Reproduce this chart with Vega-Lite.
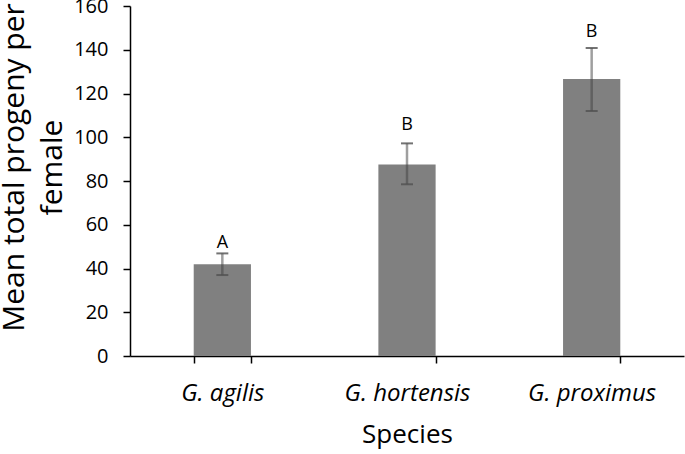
{
  "$schema": "https://vega.github.io/schema/vega-lite/v6.json",
  "autosize": "none",
  "width": 554,
  "height": 350,
  "padding": {"left": 130, "top": 6, "right": 1, "bottom": 98},
  "background": "white",
  "config": {"view": {"stroke": null}, "font": "Open Sans"},
  "data": {"values": [
    {"species": "G. agilis", "mean": 42, "lo": 37, "hi": 46.9, "letter": "A", "letter_y": 51.5},
    {"species": "G. hortensis", "mean": 87.6, "lo": 78.5, "hi": 97.2, "letter": "B", "letter_y": 105.5},
    {"species": "G. proximus", "mean": 126.6, "lo": 112, "hi": 140.8, "letter": "B", "letter_y": 148}
  ]},
  "encoding": {
    "x": {
      "field": "species", "type": "nominal", "sort": null,
      "scale": {"paddingInner": 0.69, "paddingOuter": 0.345},
      "axis": {
        "title": "Species", "titleFont": "Open Sans", "titleFontSize": 26, "titleFontWeight": "normal", "titleColor": "#000000", "titlePadding": 16,
        "labelAngle": 0, "labelFont": "Open Sans", "labelFontSize": 24, "labelFontStyle": "italic", "labelColor": "#000000", "labelPadding": 18,
        "tickBand": "extent", "tickSize": 7, "tickColor": "#000000", "tickWidth": 1.5,
        "domainColor": "#000000", "domainWidth": 1.5
      }
    }
  },
  "layer": [
    {
      "mark": {"type": "bar", "color": "#808080"},
      "encoding": {
        "y": {
          "field": "mean", "type": "quantitative",
          "scale": {"domain": [0, 160], "nice": false},
          "axis": {
            "title": ["Mean total progeny per", "female"],
            "titleFont": "Open Sans", "titleFontSize": 30, "titleFontWeight": "normal", "titleColor": "#000000",
            "titleLineHeight": 38, "titlePadding": 6, "titleY": 161,
            "values": [0, 20, 40, 60, 80, 100, 120, 140, 160],
            "grid": false, "labelFont": "Open Sans", "labelFontSize": 20, "labelColor": "#000000", "labelPadding": 15,
            "tickSize": 7, "tickColor": "#000000", "tickWidth": 1.5,
            "domainColor": "#000000", "domainWidth": 1.5
          }
        }
      }
    },
    {
      "mark": {"type": "rule", "color": "#404040", "opacity": 0.5, "strokeWidth": 2.5},
      "encoding": {
        "y": {"field": "lo", "type": "quantitative"},
        "y2": {"field": "hi"}
      }
    },
    {
      "mark": {"type": "tick", "color": "#505050", "opacity": 0.8, "thickness": 2, "size": 12},
      "encoding": {"y": {"field": "lo", "type": "quantitative"}}
    },
    {
      "mark": {"type": "tick", "color": "#505050", "opacity": 0.8, "thickness": 2, "size": 12},
      "encoding": {"y": {"field": "hi", "type": "quantitative"}}
    },
    {
      "mark": {"type": "text", "font": "Open Sans", "fontSize": 18, "color": "#000000", "baseline": "middle"},
      "encoding": {
        "y": {"field": "letter_y", "type": "quantitative"},
        "text": {"field": "letter"}
      }
    }
  ]
}
